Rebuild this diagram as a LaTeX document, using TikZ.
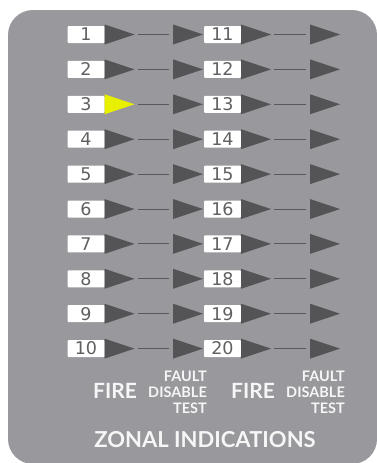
\documentclass[tikz,border=0pt]{standalone}
\usepackage{fontspec}
\setmainfont{Lato}
\newfontfamily\numfont{DejaVu Sans}
\definecolor{panel}{RGB}{152,152,157}
\definecolor{tridark}{RGB}{84,84,86}
\definecolor{triyellow}{RGB}{232,240,0}
\definecolor{numgray}{RGB}{96,96,98}
\definecolor{linegray}{RGB}{88,88,98}
\definecolor{labwhite}{RGB}{246,246,246}
\tikzset{
  numbox/.style={rectangle, rounded corners=1pt, fill=white, minimum width=37pt, minimum height=17pt, inner sep=0pt, outer sep=0pt, font=\numfont\fontsize{17.5}{17.5}\selectfont, text=numgray},
  tri/.style={rectangle, minimum width=30pt, minimum height=20pt, inner sep=0pt, outer sep=0pt,
    path picture={\fill[#1] (path picture bounding box.north west) -- (path picture bounding box.east) -- (path picture bounding box.south west) -- cycle;}},
  tri/.default=tridark,
  link/.style={draw=linegray, line width=1pt, shorten <=3pt, shorten >=4pt},
  bigtxt/.style={text=labwhite, font=\bfseries\fontsize{21}{21}\selectfont, inner sep=0pt},
  smalltxt/.style={text=labwhite, font=\bfseries\fontsize{14.5}{16}\selectfont, align=right, inner sep=0pt},
  titletxt/.style={text=labwhite, font=\bfseries\fontsize{22}{22}\selectfont, inner sep=0pt}
}
\begin{document}
\begin{tikzpicture}[x=1pt,y=-1pt]
\useasboundingbox (0,0) rectangle (376,463);
\fill[panel, rounded corners=25pt] (8,10) rectangle (377,464);
\foreach \i in {1,...,10} {
  \pgfmathsetmacro\yy{34.5+34.9*(\i-1)}
  \pgfmathtruncatemacro\j{\i+10}
  \edef\tricol{\ifnum\i=3 triyellow\else tridark\fi}
  \node[numbox] (bL\i) at (86,\yy) {\i};
  \node[tri=\tricol] (tA\i) at (119.5,\yy) {};
  \node[tri] (tB\i) at (188,\yy) {};
  \node[numbox] (bR\i) at (222.5,\yy) {\j};
  \node[tri] (tC\i) at (256,\yy) {};
  \node[tri] (tD\i) at (325,\yy) {};
  \draw[link] (tA\i.east) -- (tB\i.west);
  \draw[link] (tC\i.east) -- (tD\i.west);
}
\node[bigtxt] (fireL) at (115,391) {FIRE};
\node[bigtxt] (fireR) at (253,391) {FIRE};
\node[smalltxt, anchor=east] (fdtL) at (207,392.5) {FAULT\\DISABLE\\TEST};
\node[smalltxt, anchor=east] (fdtR) at (345,392.5) {FAULT\\DISABLE\\TEST};
\node[titletxt] (title) at (205,440) {ZONAL INDICATIONS};
\end{tikzpicture}
\end{document}
